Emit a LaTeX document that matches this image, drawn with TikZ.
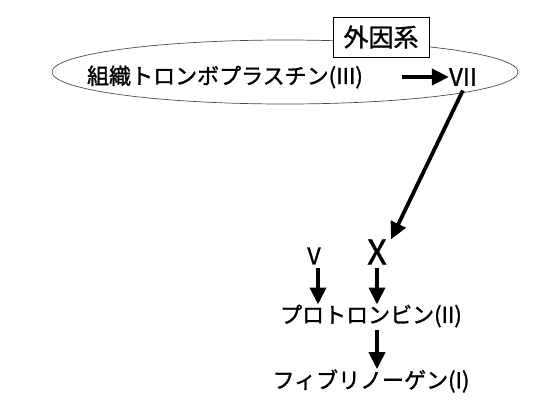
\documentclass[tikz,border=0pt]{standalone}
\usepackage{fontspec}
\setmainfont{Noto Sans CJK JP}[FakeBold=1.3]
\usetikzlibrary{arrows.meta}

\tikzset{
  factor/.style={inner sep=0pt, font=\fontsize{22}{26}\selectfont},
  kei/.style={draw, fill=white, line width=0.9pt, minimum width=96pt, minimum height=40pt,
    inner sep=0pt, font=\fontsize{25}{28}\selectfont},
  bigarrow/.style={line width=3.8pt, -{Triangle[width=16pt,length=17pt]}},
}

\begin{document}
\begin{tikzpicture}[x=1pt, y=1pt]
  \useasboundingbox (0,0) rectangle (550,-408);
  % extrinsic pathway
  \draw[line width=0.7pt, black!70] (285,-72) ellipse [x radius=233pt, y radius=32pt];
  \node[kei] (ext) at (381,-37) {外因系};
  \node[factor] (tf) at (225,-77) {組織トロンボプラスチン(III)};
  \node[factor, font=\fontsize{24}{26}\selectfont] (f7) at (463,-77) {VII};
  % common pathway
  \node[factor, font=\fontsize{23}{26}\selectfont] (f5) at (314,-256) {V};
  \node[factor, font=\fontsize{34}{36}\selectfont] (f10) at (377,-252) {X};
  \node[factor] (pt) at (371,-316) {プロトロンビン(II)};
  \node[factor] (fb) at (371,-381) {フィブリノーゲン(I)};

  \draw[bigarrow, shorten <=39pt] (tf.east) -- (f7.west);
  \draw[bigarrow, shorten <=5pt] ([xshift=2pt]f7.south) -- ([xshift=14pt]f10.north);
  \draw[bigarrow, shorten <=3pt] ([xshift=4pt]f5.south) -- ([xshift=4pt]f5.south |- pt.north);
  \draw[bigarrow, shorten <=3pt] (f10.south) -- (f10.south |- pt.north);
  \draw[bigarrow, shorten <=2pt] (f10.south |- pt.south) -- (f10.south |- fb.north);
\end{tikzpicture}
\end{document}
